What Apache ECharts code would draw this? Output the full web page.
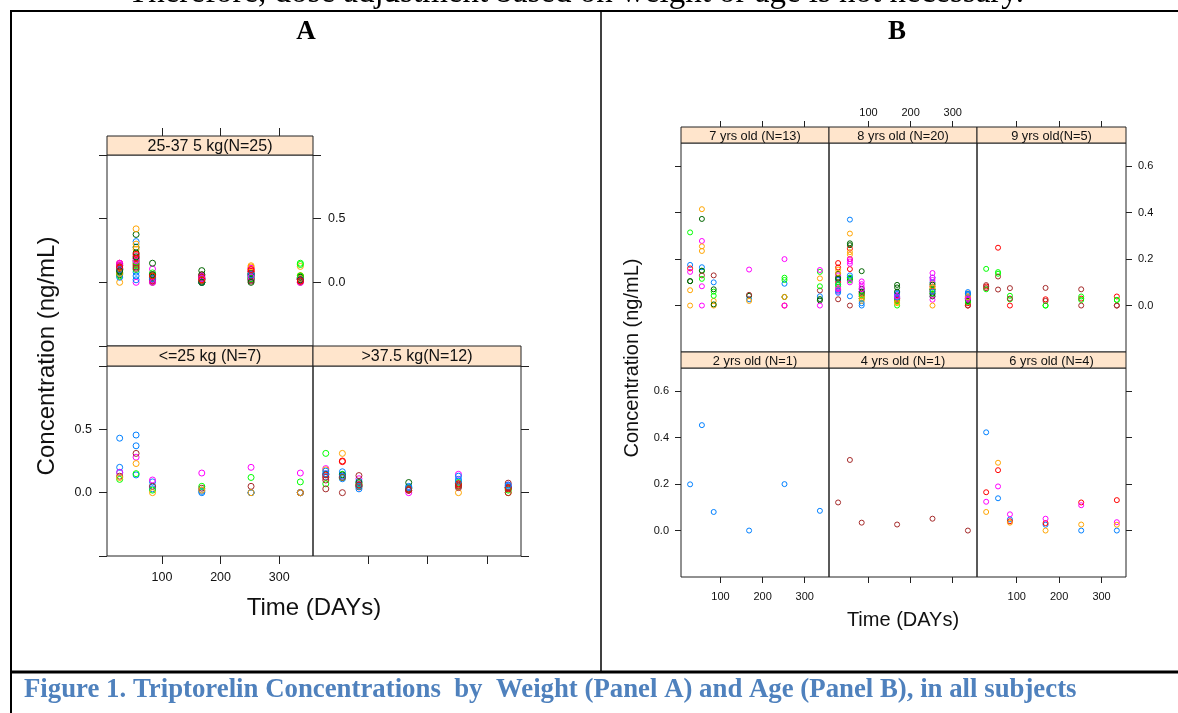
<!DOCTYPE html>
<html>
<head>
<meta charset="utf-8">
<script src="https://cdn.jsdelivr.net/npm/echarts@6/dist/echarts.min.js"></script>
<style>
  html, body { margin: 0; padding: 0; background: #fff; }
  #chart { width: 1178px; height: 713px; }
</style>
</head>
<body>
<div id="chart"></div>
<script>
// Sampling days and axis ticks
const days = [28, 56, 84, 168, 252, 336];
const dayTicks = [100, 200, 300];
const concTicksA = [-0.5, 0, 0.5, 1.0];
const concLabelsA = [0, 0.5];
const concTicksB = [0, 0.2, 0.4, 0.6];

// Concentrations (ng/mL) per subject, one row per subject, values at the days above
// Weight 25-37.5 kg (N=25)
const wtMid = [
  [0.12, 0.32, 0.05, 0.03, 0.07, 0.02],
  [0.14, 0.21, 0.105, 0.05, 0.11, 0.02],
  [0.10, 0.376, 0.15, 0.092, 0.06, 0.04],
  [0.15, 0.17, 0.02, 0.058, 0.085, 0.03],
  [0.0, 0.42, 0.03, 0.02, 0.13, 0.125],
  [0.08, 0.13, 0.074, 0.01, 0.04, 0.15],
  [0.11, 0.15, 0.04, 0.02, 0.05, 0.03],
  [0.07, 0.08, 0.03, 0.04, 0.02, 0.01],
  [0.12, 0.184, 0.06, 0.03, 0.09, 0.01],
  [0.06, 0.276, 0.05, 0.02, 0.03, 0.05],
  [0.13, 0.14, 0.02, 0.03, 0.06, 0.02],
  [0.09, 0.26, 0.01, 0.0, 0.10, 0.053],
  [0.05, 0.10, 0.02, 0.0, 0.03, 0.14],
  [0.10, 0.12, 0.03, 0.01, 0.02, 0.0],
  [0.04, 0.05, 0.01, 0.03, 0.05, 0.03],
  [0.15, 0.0, 0.02, 0.05, 0.11, 0.0],
  [0.08, 0.23, 0.04, 0.06, 0.07, 0.04],
  [0.11, 0.19, 0.01, 0.04, 0.085, 0.01],
  [0.07, 0.30, 0.05, 0.02, 0.12, 0.03],
  [0.12, 0.16, 0.06, 0.0, 0.04, 0.05],
  [0.13, 0.11, 0.0, 0.0, 0.01, 0.02],
  [0.10, 0.02, 0.03, 0.0, 0.06, 0.02],
  [0.13, 0.17, 0.0, 0.03, 0.04, 0.02],
  [0.09, 0.20, 0.06, 0.0, 0.0, 0.02],
  [0.12, 0.22, 0.05, 0.02, 0.10, 0.01]
];
// Weight <=25 kg (N=7)
const wtLow = [
  [0.43, 0.455, 0.085, 0.0, 0.0, 0.0],
  [0.20, 0.37, 0.05, 0.01, 0.0, 0.0],
  [0.16, 0.14, 0.03, 0.02, 0.0, 0.0],
  [0.16, 0.28, 0.10, 0.155, 0.20, 0.155],
  [0.13, 0.31, 0.05, 0.035, 0.05, 0.0],
  [0.105, 0.15, 0.02, 0.05, 0.12, 0.085],
  [0.12, 0.23, 0.0, 0.02, 0.0, 0.0]
];
// Weight >37.5 kg (N=12)
const wtHigh = [
  [0.31, 0.145, 0.07, 0.04, 0.055, 0.03],
  [0.19, 0.13, 0.11, 0.0, 0.145, 0.06],
  [0.18, 0.31, 0.06, 0.02, 0.0, 0.0],
  [0.17, 0.165, 0.09, 0.05, 0.13, 0.05],
  [0.145, 0.14, 0.08, 0.08, 0.07, 0.04],
  [0.125, 0.11, 0.03, 0.03, 0.105, 0.04],
  [0.12, 0.25, 0.045, 0.02, 0.06, 0.04],
  [0.07, 0.12, 0.05, 0.03, 0.08, 0.02],
  [0.03, 0.0, 0.135, 0.02, 0.04, 0.075],
  [0.14, 0.245, 0.06, 0.03, 0.07, 0.03],
  [0.15, 0.13, 0.05, 0.04, 0.09, 0.06],
  [0.10, 0.12, 0.06, 0.02, 0.05, 0.0]
];
// Age 7 years (N=13)
const age7 = [
  [0.315, 0.15, 0.06, null, 0.12, 0.145],
  [0.175, 0.165, 0.10, 0.027, 0.094, 0.04],
  [0.16, null, null, null, 0.0, null],
  [0.145, 0.278, null, 0.155, 0.20, 0.153],
  [0.105, 0.373, 0.07, 0.042, 0.037, 0.022],
  [0.066, 0.415, 0.02, 0.02, 0.037, 0.117],
  [0.0, 0.255, 0.0, null, null, null],
  [0.105, 0.15, 0.005, null, null, 0.028],
  [null, 0.083, null, null, 0.0, 0.0],
  [null, 0.13, 0.13, 0.046, null, 0.065],
  [null, 0.115, 0.042, null, 0.11, 0.083],
  [null, 0.235, null, null, null, null],
  [null, 0.0, null, null, null, null]
];
// Age 8 years (N=20)
const age8 = [
  [0.183, 0.245, 0.056, 0.03, 0.082, 0.01],
  [0.164, 0.157, 0.04, 0.02, 0.06, 0.02],
  [0.155, 0.31, 0.039, 0.02, 0.096, 0.052],
  [0.137, 0.268, 0.148, 0.089, 0.068, 0.024],
  [0.13, 0.19, 0.104, 0.045, 0.14, 0.039],
  [0.11, 0.37, 0.029, 0.056, 0.12, 0.058],
  [0.10, 0.20, 0.05, 0.025, 0.07, 0.0],
  [0.082, 0.108, 0.03, 0.0, 0.053, 0.02],
  [0.06, 0.18, 0.092, 0.03, 0.025, 0.03],
  [0.055, 0.04, 0.0, 0.04, 0.039, 0.045],
  [0.027, 0.0, 0.05, 0.03, 0.04, 0.0],
  [0.09, 0.12, 0.06, 0.05, 0.10, 0.05],
  [0.12, 0.26, 0.072, 0.078, 0.05, 0.03],
  [0.14, 0.219, 0.02, 0.01, 0.0, 0.04],
  [0.075, 0.20, 0.08, 0.035, 0.11, 0.025],
  [0.115, 0.115, 0.06, 0.06, 0.09, 0.02],
  [0.09, 0.12, 0.045, 0.02, 0.07, 0.015],
  [0.07, 0.23, 0.03, 0.015, 0.08, 0.035],
  [0.065, 0.13, 0.01, 0.035, 0.06, 0.05],
  [0.07, 0.10, 0.07, 0.04, 0.12, 0.03]
];
// Age 9 years (N=5)
const age9 = [
  [0.082, 0.249, 0.0, 0.027, 0.03, 0.039],
  [0.158, 0.144, 0.042, 0.0, 0.039, 0.024],
  [0.088, 0.125, 0.075, 0.076, 0.07, 0.0],
  [0.07, 0.137, 0.027, 0.0, 0.024, 0.024],
  [0.075, 0.069, 0.03, 0.02, 0.0, 0.0]
];
// Age 2 years (N=1)
const age2 = [
  [0.199, 0.454, 0.08, 0.0, 0.20, 0.085]
];
// Age 4 years (N=1)
const age4 = [
  [0.121, 0.304, 0.034, 0.026, 0.051, 0.0]
];
// Age 6 years (N=4)
const age6 = [
  [0.423, 0.139, 0.048, 0.025, 0.0, 0.0],
  [0.165, 0.26, 0.04, 0.032, 0.121, 0.131],
  [0.124, 0.19, 0.07, 0.051, 0.109, 0.036],
  [0.08, 0.292, 0.034, 0.0, 0.026, 0.025]
];

// Group colours (lattice superpose palette) and the palette slot of each subject
const palette = ['#0080ff', '#ff00ff', '#006400', '#ff0000', '#ffa500', '#00ff00', '#a52a2a'];
const wtMidCol = [0,1,2,3,4,5,6,0,1,2,3,4,5,6,0,1,2,3,4,5,6,0,1,2,3];
const wtLowCol = [0,0,0,1,6,5,4];
const wtHighCol = [5,1,4,0,2,0,3,5,6,3,0,6];
const age7Col = [5,0,3,1,2,4,4,2,1,6,5,4,1];
const age8Col = [3,3,4,2,1,0,3,5,1,0,6,0,2,4,1,2,5,4,0,1];
const age9Col = [3,5,6,5,6];
const age2Col = [0];
const age4Col = [6];
const age6Col = [0,3,1,4];

const SANS = '"Liberation Sans", Arial, sans-serif';
const SERIF = '"Liberation Serif", "Times New Roman", serif';
const dayRange = [6.4, 357.6];

// Figure-level styling for the two lattice figures
const figA = {
  yRange: [-0.5, 1.0], yTicks: concTicksA, yLabels: concLabelsA,
  tickLen: 8, fontSize: 12.5, xMargin: 15, yMargin: 15, topMargin: 10, symbolSize: 6,
  stripFont: 16
};
const figB = {
  yRange: [-0.2, 0.7], yTicks: concTicksB, yLabels: concTicksB,
  tickLen: 6, fontSize: 11, xMargin: 14, yMargin: 12, topMargin: 9, symbolSize: 5,
  stripFont: 12.8
};

const panels = [
  { fig: figA, title: '25-37 5 kg(N=25)', data: wtMid, cols: wtMidCol, x: 107, y: 155, w: 206, h: 191, strip: 19,
    top: 'ticks', right: 'labels', left: 'ticks', bottom: null },
  { fig: figA, title: '<=25 kg (N=7)', data: wtLow, cols: wtLowCol, x: 107, y: 366, w: 206, h: 190, strip: 20,
    top: null, right: null, left: 'labels', bottom: 'labels' },
  { fig: figA, title: '>37.5 kg(N=12)', data: wtHigh, cols: wtHighCol, x: 313, y: 366, w: 208, h: 190, strip: 20,
    top: null, right: 'ticks', left: null, bottom: 'ticks' },
  { fig: figB, title: '7 yrs old (N=13)', data: age7, cols: age7Col, x: 681, y: 143, w: 148, h: 209, strip: 16,
    top: 'ticks', right: null, left: 'ticks', bottom: null },
  { fig: figB, title: '8 yrs old (N=20)', data: age8, cols: age8Col, x: 829, y: 143, w: 148, h: 209, strip: 16,
    top: 'labels', right: null, left: null, bottom: null },
  { fig: figB, title: '9 yrs old(N=5)', data: age9, cols: age9Col, x: 977, y: 143, w: 149, h: 209, strip: 16,
    top: 'ticks', right: 'labels', left: null, bottom: null },
  { fig: figB, title: '2 yrs old (N=1)', data: age2, cols: age2Col, x: 681, y: 368, w: 148, h: 209, strip: 16,
    top: null, right: null, left: 'labels', bottom: 'labels' },
  { fig: figB, title: '4 yrs old (N=1)', data: age4, cols: age4Col, x: 829, y: 368, w: 148, h: 209, strip: 16,
    top: null, right: null, left: null, bottom: 'ticks' },
  { fig: figB, title: '6 yrs old (N=4)', data: age6, cols: age6Col, x: 977, y: 368, w: 149, h: 209, strip: 16,
    top: null, right: 'ticks', left: null, bottom: 'labels' }
];

function makeAxis(isX, gi, position, mode, fig, offset) {
  const ticks = isX ? dayTicks : fig.yTicks;
  const labels = isX ? dayTicks : fig.yLabels;
  const range = isX ? dayRange : fig.yRange;
  const margin = !isX ? fig.yMargin : (position === 'top' ? fig.topMargin : fig.xMargin);
  return {
    type: 'value', gridIndex: gi, position: position, offset: offset || 0,
    min: range[0], max: range[1],
    axisLine: { show: false, onZero: false },
    splitLine: { show: false },
    axisTick: { show: !!mode, length: fig.tickLen, customValues: ticks,
                lineStyle: { color: '#222', width: 1 } },
    axisLabel: { show: mode === 'labels', customValues: labels, margin: margin,
                 fontSize: fig.fontSize, fontFamily: SANS, color: '#111',
                 formatter: isX ? (v => String(Math.round(v))) : (v => v.toFixed(1)) }
  };
}

const grids = [], xAxes = [], yAxes = [], series = [], graphics = [];

panels.forEach((p, gi) => {
  grids.push({ left: p.x, top: p.y, width: p.w, height: p.h, show: true,
               borderColor: '#222', borderWidth: 1, backgroundColor: 'transparent' });
  const xi = xAxes.length, yi = yAxes.length;
  xAxes.push(makeAxis(true, gi, 'bottom', p.bottom, p.fig, 0));
  xAxes.push(makeAxis(true, gi, 'top', p.top, p.fig, p.strip));
  yAxes.push(makeAxis(false, gi, 'left', p.left, p.fig, 0));
  yAxes.push(makeAxis(false, gi, 'right', p.right, p.fig, 0));

  p.data.forEach((row, si) => {
    const pts = [];
    row.forEach((v, k) => { if (v !== null) pts.push([days[k], v]); });
    series.push({
      type: 'scatter', xAxisIndex: xi, yAxisIndex: yi, data: pts,
      symbol: 'circle', symbolSize: p.fig.symbolSize, silent: true,
      itemStyle: { color: 'rgba(0,0,0,0)', borderColor: palette[p.cols[si]], borderWidth: 1, opacity: 1 }
    });
  });

  // strip above the panel with the group name
  graphics.push({
    type: 'rect', z: 10, silent: true,
    shape: { x: p.x, y: p.y - p.strip, width: p.w, height: p.strip },
    style: { fill: '#ffe5cc', stroke: '#222', lineWidth: 1 }
  });
  graphics.push({
    type: 'text', z: 11, silent: true,
    x: p.x + p.w / 2, y: p.y - p.strip / 2 + 1,
    style: { text: p.title, fill: '#111', font: p.fig.stripFont + 'px ' + SANS,
             align: 'center', verticalAlign: 'middle' }
  });
});

// Axis titles
function axisTitle(text, x, y, size, rotate) {
  return { type: 'text', z: 11, silent: true, x: x, y: y, rotation: rotate ? Math.PI / 2 : 0,
           style: { text: text, fill: '#111', font: size + 'px ' + SANS, align: 'center', verticalAlign: 'middle' } };
}
graphics.push(axisTitle('Concentration (ng/mL)', 47, 356, 24, true));
graphics.push(axisTitle('Time (DAYs)', 314, 608, 24, false));
graphics.push(axisTitle('Concentration (ng/mL)', 632, 358, 20, true));
graphics.push(axisTitle('Time (DAYs)', 903, 620, 20, false));

// Table frame, headings and caption
function line(x1, y1, x2, y2, w) {
  return { type: 'line', z: 12, silent: true, shape: { x1: x1, y1: y1, x2: x2, y2: y2 },
           style: { stroke: '#000', lineWidth: w } };
}
graphics.push(line(10, 11, 1178, 11, 2));
graphics.push(line(11, 10, 11, 713, 2));
graphics.push(line(601, 11, 601, 672, 1.5));
graphics.push(line(10, 672, 1178, 672, 3));

graphics.push({ type: 'text', z: 12, silent: true, x: 128, y: -7,
  style: { text: 'Therefore, dose adjustment based on weight or age is not necessary.', fill: '#000',
           font: '33px ' + SERIF, align: 'left', verticalAlign: 'middle' } });
graphics.push({ type: 'text', z: 12, silent: true, x: 306, y: 32,
  style: { text: 'A', fill: '#000', font: 'bold 27px ' + SERIF, align: 'center', verticalAlign: 'middle' } });
graphics.push({ type: 'text', z: 12, silent: true, x: 897, y: 32,
  style: { text: 'B', fill: '#000', font: 'bold 27px ' + SERIF, align: 'center', verticalAlign: 'middle' } });
graphics.push({ type: 'text', z: 12, silent: true, x: 24, y: 690,
  style: { text: 'Figure 1. Triptorelin Concentrations  by  Weight (Panel A) and Age (Panel B), in all subjects',
           fill: '#4f81bd', font: 'bold 26.8px ' + SERIF, align: 'left', verticalAlign: 'middle' } });

const chart = echarts.init(document.getElementById('chart'), null, { renderer: 'canvas' });
chart.setOption({
  animation: false,
  backgroundColor: '#fff',
  grid: grids,
  xAxis: xAxes,
  yAxis: yAxes,
  series: series,
  graphic: { elements: graphics }
});
</script>
</body>
</html>
